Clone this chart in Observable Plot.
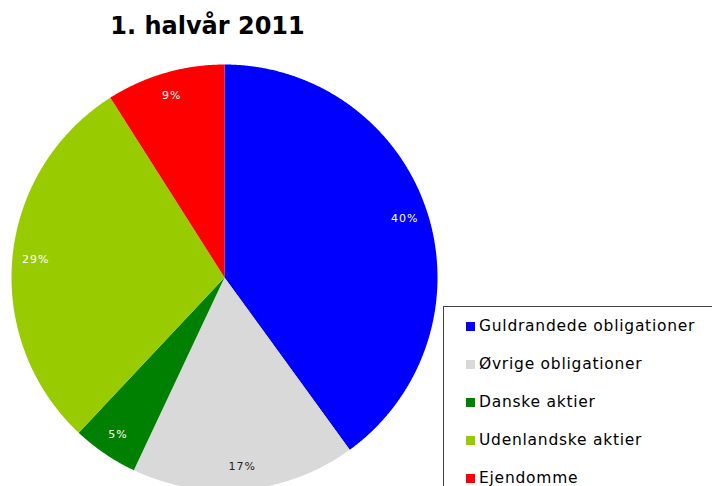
<!DOCTYPE html>
<html><head><meta charset="utf-8">
<script src="https://cdn.jsdelivr.net/npm/d3@7"></script>
<script src="https://cdn.jsdelivr.net/npm/@observablehq/plot@0.6"></script>
<style>
body{margin:0;background:#fff;font-family:"DejaVu Sans",Verdana,sans-serif;}
#wrap{position:relative;width:712px;height:486px;overflow:hidden;}
#chart{position:absolute;left:0;top:0;}
#chart svg text{letter-spacing:1px;}
#title{position:absolute;left:0;width:415px;top:11px;text-align:center;font-weight:bold;font-size:24px;line-height:30px;color:#000;}
#legend{position:absolute;left:443px;top:306px;width:300px;height:220px;border:1px solid #444;background:#fff;}
.row{position:absolute;left:22px;height:20px;display:flex;align-items:center;font-size:15.5px;letter-spacing:0.75px;color:#000;white-space:nowrap;}
.sw{width:9px;height:9px;margin-right:4px;}
</style></head>
<body><div id="wrap"><div id="chart"></div><div id="title"></div><div id="legend"></div></div>
<script>
const title = "1. halvår 2011";
const categories = ["Guldrandede obligationer","Øvrige obligationer","Danske aktier","Udenlandske aktier","Ejendomme"];
const values = [40, 17, 5, 29, 9];
const colors = ["#0000ff","#d9d9d9","#008000","#99cc00","#ff0000"];
const labelColors = ["#ffffff","#222222","#ffffff","#ffffff","#ffffff"];

const arcs = d3.pie().sort(null).value(d => d)(values);
const poly = [];
const labels = [];
arcs.forEach((a, i) => {
  const name = categories[i];
  poly.push({name, x: 0, y: 0});
  const n = Math.max(2, Math.ceil((a.endAngle - a.startAngle) / 0.005));
  for (let k = 0; k <= n; k++) {
    const t = a.startAngle + (a.endAngle - a.startAngle) * k / n;
    poly.push({name, x: Math.sin(t), y: Math.cos(t)});
  }
  poly.push({name, x: 0, y: 0});
  const m = (a.startAngle + a.endAngle) / 2;
  labels.push({name, text: values[i] + "%", x: 0.89 * Math.sin(m), y: 0.89 * Math.cos(m), c: labelColors[i]});
});

const chart = Plot.plot({
  width: 712, height: 486,
  x: {domain: [-1, 1], range: [11, 437], axis: null},
  y: {domain: [-1, 1], range: [490, 64], axis: null},
  color: {domain: categories, range: colors},
  style: {background: "transparent", overflow: "visible"},
  marks: [
    Plot.line(poly, {x: "x", y: "y", z: "name", fill: "name", stroke: "none", curve: "linear"}),
    Plot.text(labels, {x: "x", y: "y", text: "text", fill: "c", fontSize: 11, fontFamily: "DejaVu Sans, Verdana, sans-serif"})
  ]
});
document.getElementById("chart").appendChild(chart);
document.getElementById("title").textContent = title;

const lg = document.getElementById("legend");
categories.forEach((c, i) => {
  const r = document.createElement("div");
  r.className = "row";
  r.style.top = (9 + i * 38) + "px";
  const s = document.createElement("div");
  s.className = "sw"; s.style.background = colors[i];
  const t = document.createElement("span");
  t.textContent = c;
  r.appendChild(s); r.appendChild(t);
  lg.appendChild(r);
});
</script></body></html>
